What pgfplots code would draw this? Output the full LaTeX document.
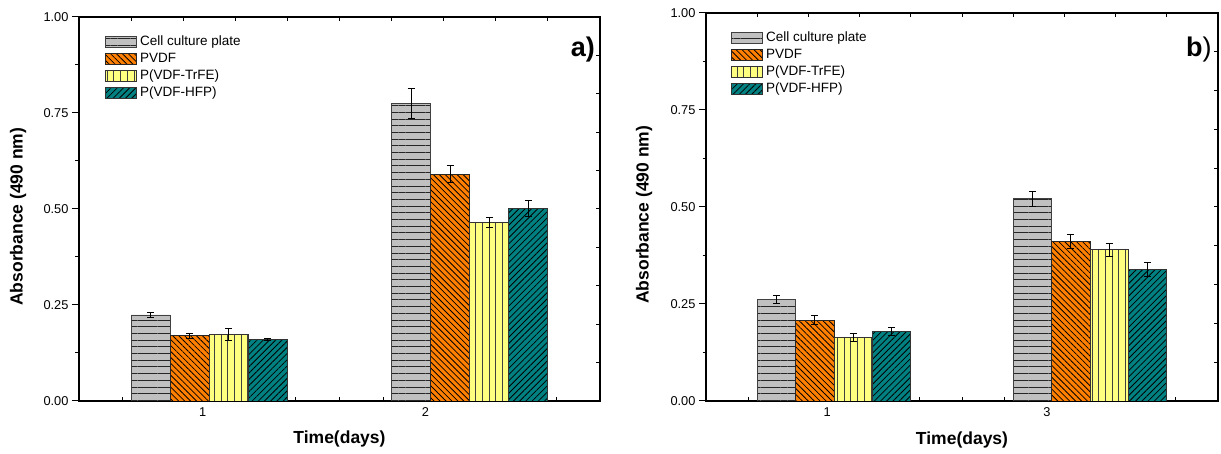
\documentclass[border=0pt]{standalone}
\usepackage{fontspec}
\setmainfont{Liberation Sans}
\usepackage{pgfplots}
\pgfplotsset{compat=1.18}
\usetikzlibrary{patterns.meta}

\definecolor{cgray}{HTML}{C0C0C0}
\definecolor{corange}{HTML}{FF8000}
\definecolor{cyellow}{HTML}{FFFF80}
\definecolor{cteal}{HTML}{008080}

\newcommand{\tickfont}{\fontsize{12.8}{14}\selectfont}
\newcommand{\labfont}{\fontsize{17.5}{20}\selectfont\bfseries}

\pgfplotsset{
  panel/.style={scale only axis, anchor=south west,
    xmin=0.5, xmax=2.5, ymin=0, ymax=1,
    axis line style={line width=1.1pt},
    every tick/.style={black, line width=1pt}},
  barleg/.style={legend image code/.code={%
    \draw[##1] (0pt,-5.5pt) rectangle (31pt,5.5pt);}},
  errs/.style={/pgfplots/error bars/y dir=both,
    /pgfplots/error bars/y explicit,
    /pgfplots/error bars/error bar style={line width=1pt, black},
    /pgfplots/error bars/error mark options={rotate=90, black, line width=1pt, mark size=3.5pt}},
  grayb/.style={barleg, fill=cgray, draw=black!75, line width=0.9pt, bar shift=-0.225,
    postaction={pattern color=black!85, pattern={Lines[angle=0,distance=6.7pt,line width=0.9pt]}}, errs},
  orangeb/.style={barleg, fill=corange, draw=black!85, line width=0.9pt, bar shift=-0.075,
    postaction={pattern color=black, pattern={Lines[angle=-45,distance=4.2pt,line width=0.8pt]}}, errs},
  yellowb/.style={barleg, fill=cyellow, draw=black!80, line width=0.9pt, bar shift=0.075,
    postaction={pattern color=black!75, pattern={Lines[angle=90,distance=6.7pt,line width=0.9pt]}}, errs},
  tealb/.style={barleg, fill=cteal, draw=black!80, line width=0.9pt, bar shift=0.225,
    postaction={pattern color=black, pattern={Lines[angle=45,distance=4.4pt,line width=0.8pt]}}, errs},
}

\begin{document}
\begin{tikzpicture}[x=1pt,y=1pt]
\useasboundingbox (0,0) rectangle (1221,454);

% ---------------- panel a ----------------
\begin{axis}[panel, at={(79pt,53pt)}, width=521pt, height=384pt,
  xtick=\empty, ytick={0,0.25,0.5,0.75,1},
  yticklabels={0.00,0.25,0.50,0.75,1.00},
  minor ytick={0.125,0.375,0.625,0.875},
  ytick pos=left, tick align=outside,
  major tick length=7pt, minor tick length=3.5pt,
  yticklabel style={font=\tickfont},
  ylabel={Absorbance (490 nm)},
  ylabel style={at={(axis description cs:-0.1171,0.48)}, anchor=center, font=\labfont}]
\end{axis}
\begin{axis}[panel, at={(79pt,53pt)}, width=521pt, height=384pt,
  xtick={0.5,0.7,0.9,1.1,1.3,1.5,1.7,1.9,2.1,2.3,2.5},
  ytick={0,0.1,0.2,0.3,0.4,0.5,0.6,0.7,0.8,0.9,1},
  xtick pos=right, ytick pos=right, xticklabel=\empty, yticklabel=\empty,
  tick align=inside, major tick length=4pt]
\end{axis}
\begin{axis}[panel, at={(79pt,53pt)}, width=521pt, height=384pt,
  ybar, bar width=0.15,
  xtick={0.975,1.83}, xticklabels={1,2},
  minor xtick={0.667,0.833,1.0,1.167,1.333,1.5,1.667,2.0,2.167,2.333},
  xtick pos=left, ytick=\empty, tick align=inside,
  major tick length=4pt, minor tick length=4pt,
  xticklabel style={font=\tickfont, yshift=-3pt},
  xlabel={Time(days)},
  xlabel style={at={(axis description cs:0.5,0)}, anchor=base, yshift=-43pt, font=\labfont},
  legend style={at={(0.0499,0.957)}, anchor=north west, draw=none, fill=none,
    inner sep=0pt, row sep=0pt, font=\fontsize{13.5}{15}\selectfont,
    nodes={inner xsep=3pt, inner ysep=2pt, text height=10pt, text depth=3pt}},
  legend cell align=left]
\addplot[grayb]   coordinates {(1,0.224) +- (0,0.007) (2,0.774) +- (0,0.039)};
\addplot[orangeb] coordinates {(1,0.170) +- (0,0.006) (2,0.590) +- (0,0.022)};
\addplot[yellowb] coordinates {(1,0.173) +- (0,0.015) (2,0.464) +- (0,0.013)};
\addplot[tealb]   coordinates {(1,0.161) +- (0,0.003) (2,0.501) +- (0,0.021)};
\legend{Cell culture plate, PVDF, P(VDF-TrFE), P(VDF-HFP)}
\node[anchor=base east, inner sep=0pt, font=\fontsize{27}{30}\selectfont\bfseries]
  at (rel axis cs:0.9904,0.898) {a)};
\end{axis}

% ---------------- panel b ----------------
\begin{axis}[panel, at={(706pt,53pt)}, width=512pt, height=388pt,
  xtick=\empty, ytick={0,0.25,0.5,0.75,1},
  yticklabels={0.00,0.25,0.50,0.75,1.00},
  minor ytick={0.125,0.375,0.625,0.875},
  ytick pos=left, tick align=outside,
  major tick length=7pt, minor tick length=3.5pt,
  yticklabel style={font=\tickfont},
  ylabel={Absorbance (490 nm)},
  ylabel style={at={(axis description cs:-0.1211,0.48)}, anchor=center, font=\labfont}]
\end{axis}
\begin{axis}[panel, at={(706pt,53pt)}, width=512pt, height=388pt,
  xtick={0.5,0.7,0.9,1.1,1.3,1.5,1.7,1.9,2.1,2.3,2.5},
  ytick={0,0.1,0.2,0.3,0.4,0.5,0.6,0.7,0.8,0.9,1},
  xtick pos=right, ytick pos=right, xticklabel=\empty, yticklabel=\empty,
  tick align=inside, major tick length=4pt]
\end{axis}
\begin{axis}[panel, at={(706pt,53pt)}, width=512pt, height=388pt,
  ybar, bar width=0.15,
  xtick={0.973,1.832}, xticklabels={1,3},
  minor xtick={0.667,0.833,1.0,1.167,1.333,1.5,1.667,2.0,2.167,2.333},
  xtick pos=left, ytick=\empty, tick align=inside,
  major tick length=4pt, minor tick length=4pt,
  xticklabel style={font=\tickfont, yshift=-3pt},
  xlabel={Time(days)},
  xlabel style={at={(axis description cs:0.5,0)}, anchor=base, yshift=-44pt, font=\labfont},
  legend style={at={(0.0488,0.9575)}, anchor=north west, draw=none, fill=none,
    inner sep=0pt, row sep=0pt, font=\fontsize{13.5}{15}\selectfont,
    nodes={inner xsep=3pt, inner ysep=2pt, text height=10pt, text depth=3pt}},
  legend cell align=left]
\addplot[grayb]   coordinates {(1,0.262) +- (0,0.010) (2,0.521) +- (0,0.020)};
\addplot[orangeb] coordinates {(1,0.208) +- (0,0.012) (2,0.412) +- (0,0.018)};
\addplot[yellowb] coordinates {(1,0.164) +- (0,0.011) (2,0.390) +- (0,0.017)};
\addplot[tealb]   coordinates {(1,0.180) +- (0,0.010) (2,0.338) +- (0,0.018)};
\legend{Cell culture plate, PVDF, P(VDF-TrFE), P(VDF-HFP)}
\node[anchor=base east, inner sep=0pt, font=\fontsize{27}{30}\selectfont]
  at (rel axis cs:0.988,0.889) {\textbf{b})};
\end{axis}
\end{tikzpicture}
\end{document}
